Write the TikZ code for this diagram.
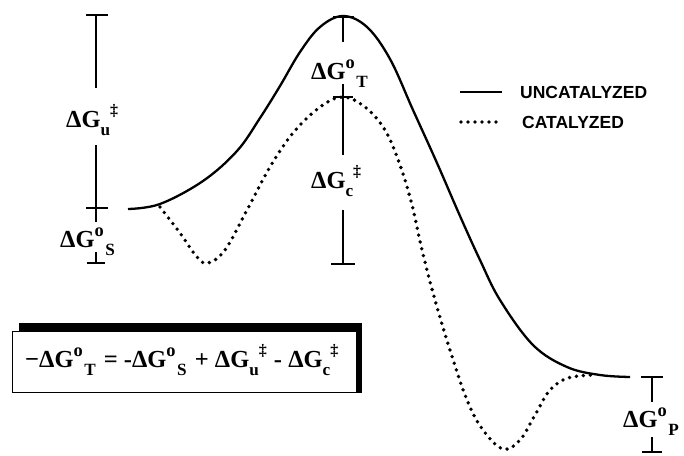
\documentclass[tikz,border=0pt]{standalone}
\usepackage{fontspec}
\setmainfont{Liberation Serif}
\newfontfamily\legfont{Liberation Sans}
\newcommand\supo{\raisebox{0.42em}{\scalebox{0.75}{o}}}
\newcommand\subl[1]{\raisebox{-0.36em}{\scalebox{0.7}{#1}}}
\newcommand\supdd{\raisebox{0.45em}{\scalebox{0.65}{‡}}}
\newcommand\dGsup[1]{ΔG\supo\kern1.5pt\subl{#1}}
\newcommand\dGsub[1]{ΔG\subl{#1}\supdd}
\begin{document}
\begin{tikzpicture}[x=1pt,y=-1pt,
  curve/.style={line width=2.3pt},
  dotcurve/.style={line width=3.8pt, line cap=round, dash pattern=on 0pt off 7pt},
  bar/.style={line width=1.4pt},
  lbl/.style={font=\bfseries\fontsize{24.5}{24.5}\selectfont, inner sep=0pt, anchor=base west},
  leg/.style={font=\legfont\bfseries\fontsize{17.5}{17.5}\selectfont, anchor=west, inner sep=0pt}]
\useasboundingbox (0,0) rectangle (684,455);
% uncatalyzed
\draw[curve] plot[smooth, tension=0.6] coordinates {(128,209) (160,204) (203,181) (237,151) (260,118) (280,86) (300,52) (320,27) (343,16) (367,27) (390,59) (413,110) (437,163) (460,216) (480,260) (500,300) (533,345) (567,367) (600,375) (630,377)};
% catalyzed
\draw[dotcurve] plot[smooth, tension=0.6] coordinates {(160,207) (180,233) (197,257) (208,263) (225,250) (247,210) (270,167) (293,133) (320,107) (343,97) (365,107) (385,130) (400,165) (412,205) (422,250) (435,300) (450,350) (467,400) (483,430) (503,449) (520,440) (535,415) (550,390) (568,378) (592,375)};
% left bracket
\coordinate (l1) at (96,15); \coordinate (l2) at (96,88);
\coordinate (l3) at (96,145); \coordinate (l4) at (96,208);
\coordinate (l5) at (96,252); \coordinate (l6) at (96,263);
\draw[bar] ([xshift=-10pt]l1) -- ([xshift=12pt]l1);
\draw[bar] (l1) -- (l2);
\node[lbl] (gu) at (66,127) {\dGsub{u}};
\draw[bar] (l3) -- (l4) -- (96,222);
\draw[bar] ([xshift=-10pt]l4) -- ([xshift=12pt]l4);
\node[lbl] (gs) at (60,247) {\dGsup{S}};
\draw[bar] (l5) -- (l6);
\draw[bar] ([xshift=-9pt]l6) -- ([xshift=9pt]l6);
% center bracket
\coordinate (c1) at (343,17); \coordinate (c2) at (343,42);
\coordinate (c3) at (343,84); \coordinate (c4) at (343,97);
\coordinate (c5) at (343,155); \coordinate (c6) at (343,210);
\coordinate (c7) at (343,264);
\draw[bar] ([xshift=-10pt]c1) -- ([xshift=11pt]c1);
\draw[bar] (c1) -- (c2);
\node[lbl] (gt) at (311,79) {\dGsup{T}};
\draw[bar] (c3) -- (c5);
\draw[bar] ([xshift=-10pt]c4) -- ([xshift=10pt]c4);
\node[lbl] (gc) at (311,188) {\dGsub{c}};
\draw[bar] (c6) -- (c7);
\draw[bar] ([xshift=-12pt]c7) -- ([xshift=12pt]c7);
% right bracket
\coordinate (r1) at (652,377); \coordinate (r2) at (652,402);
\coordinate (r3) at (652,437); \coordinate (r4) at (652,452);
\draw[bar] ([xshift=-11pt]r1) -- ([xshift=11pt]r1);
\draw[bar] (r1) -- (r2);
\node[lbl] (gp) at (623,427) {\dGsup{P}};
\draw[bar] (r3) -- (r4);
\draw[bar] ([xshift=-10pt]r4) -- ([xshift=10pt]r4);
% legend
\coordinate (a1) at (460,92); \coordinate (a2) at (502,92);
\coordinate (b1) at (461,122); \coordinate (b2) at (500,122);
\draw[curve] (a1) -- (a2);
\draw[dotcurve] (b1) -- (b2);
\node[leg] (lu) at (520,92) {UNCATALYZED};
\node[leg] (lc) at (522,122) {CATALYZED};
% equation box
\fill (19,323) rectangle (362,331);
\fill (356,323) rectangle (362,393);
\draw[line width=1pt] (12,331) rectangle (357,392);
\node[lbl] (eq) at (25,367) {−\dGsup{T}\hspace{2pt} = -\dGsup{S}\hspace{2pt} + \dGsub{u}\hspace{1pt} - \dGsub{c}};
\end{tikzpicture}
\end{document}
